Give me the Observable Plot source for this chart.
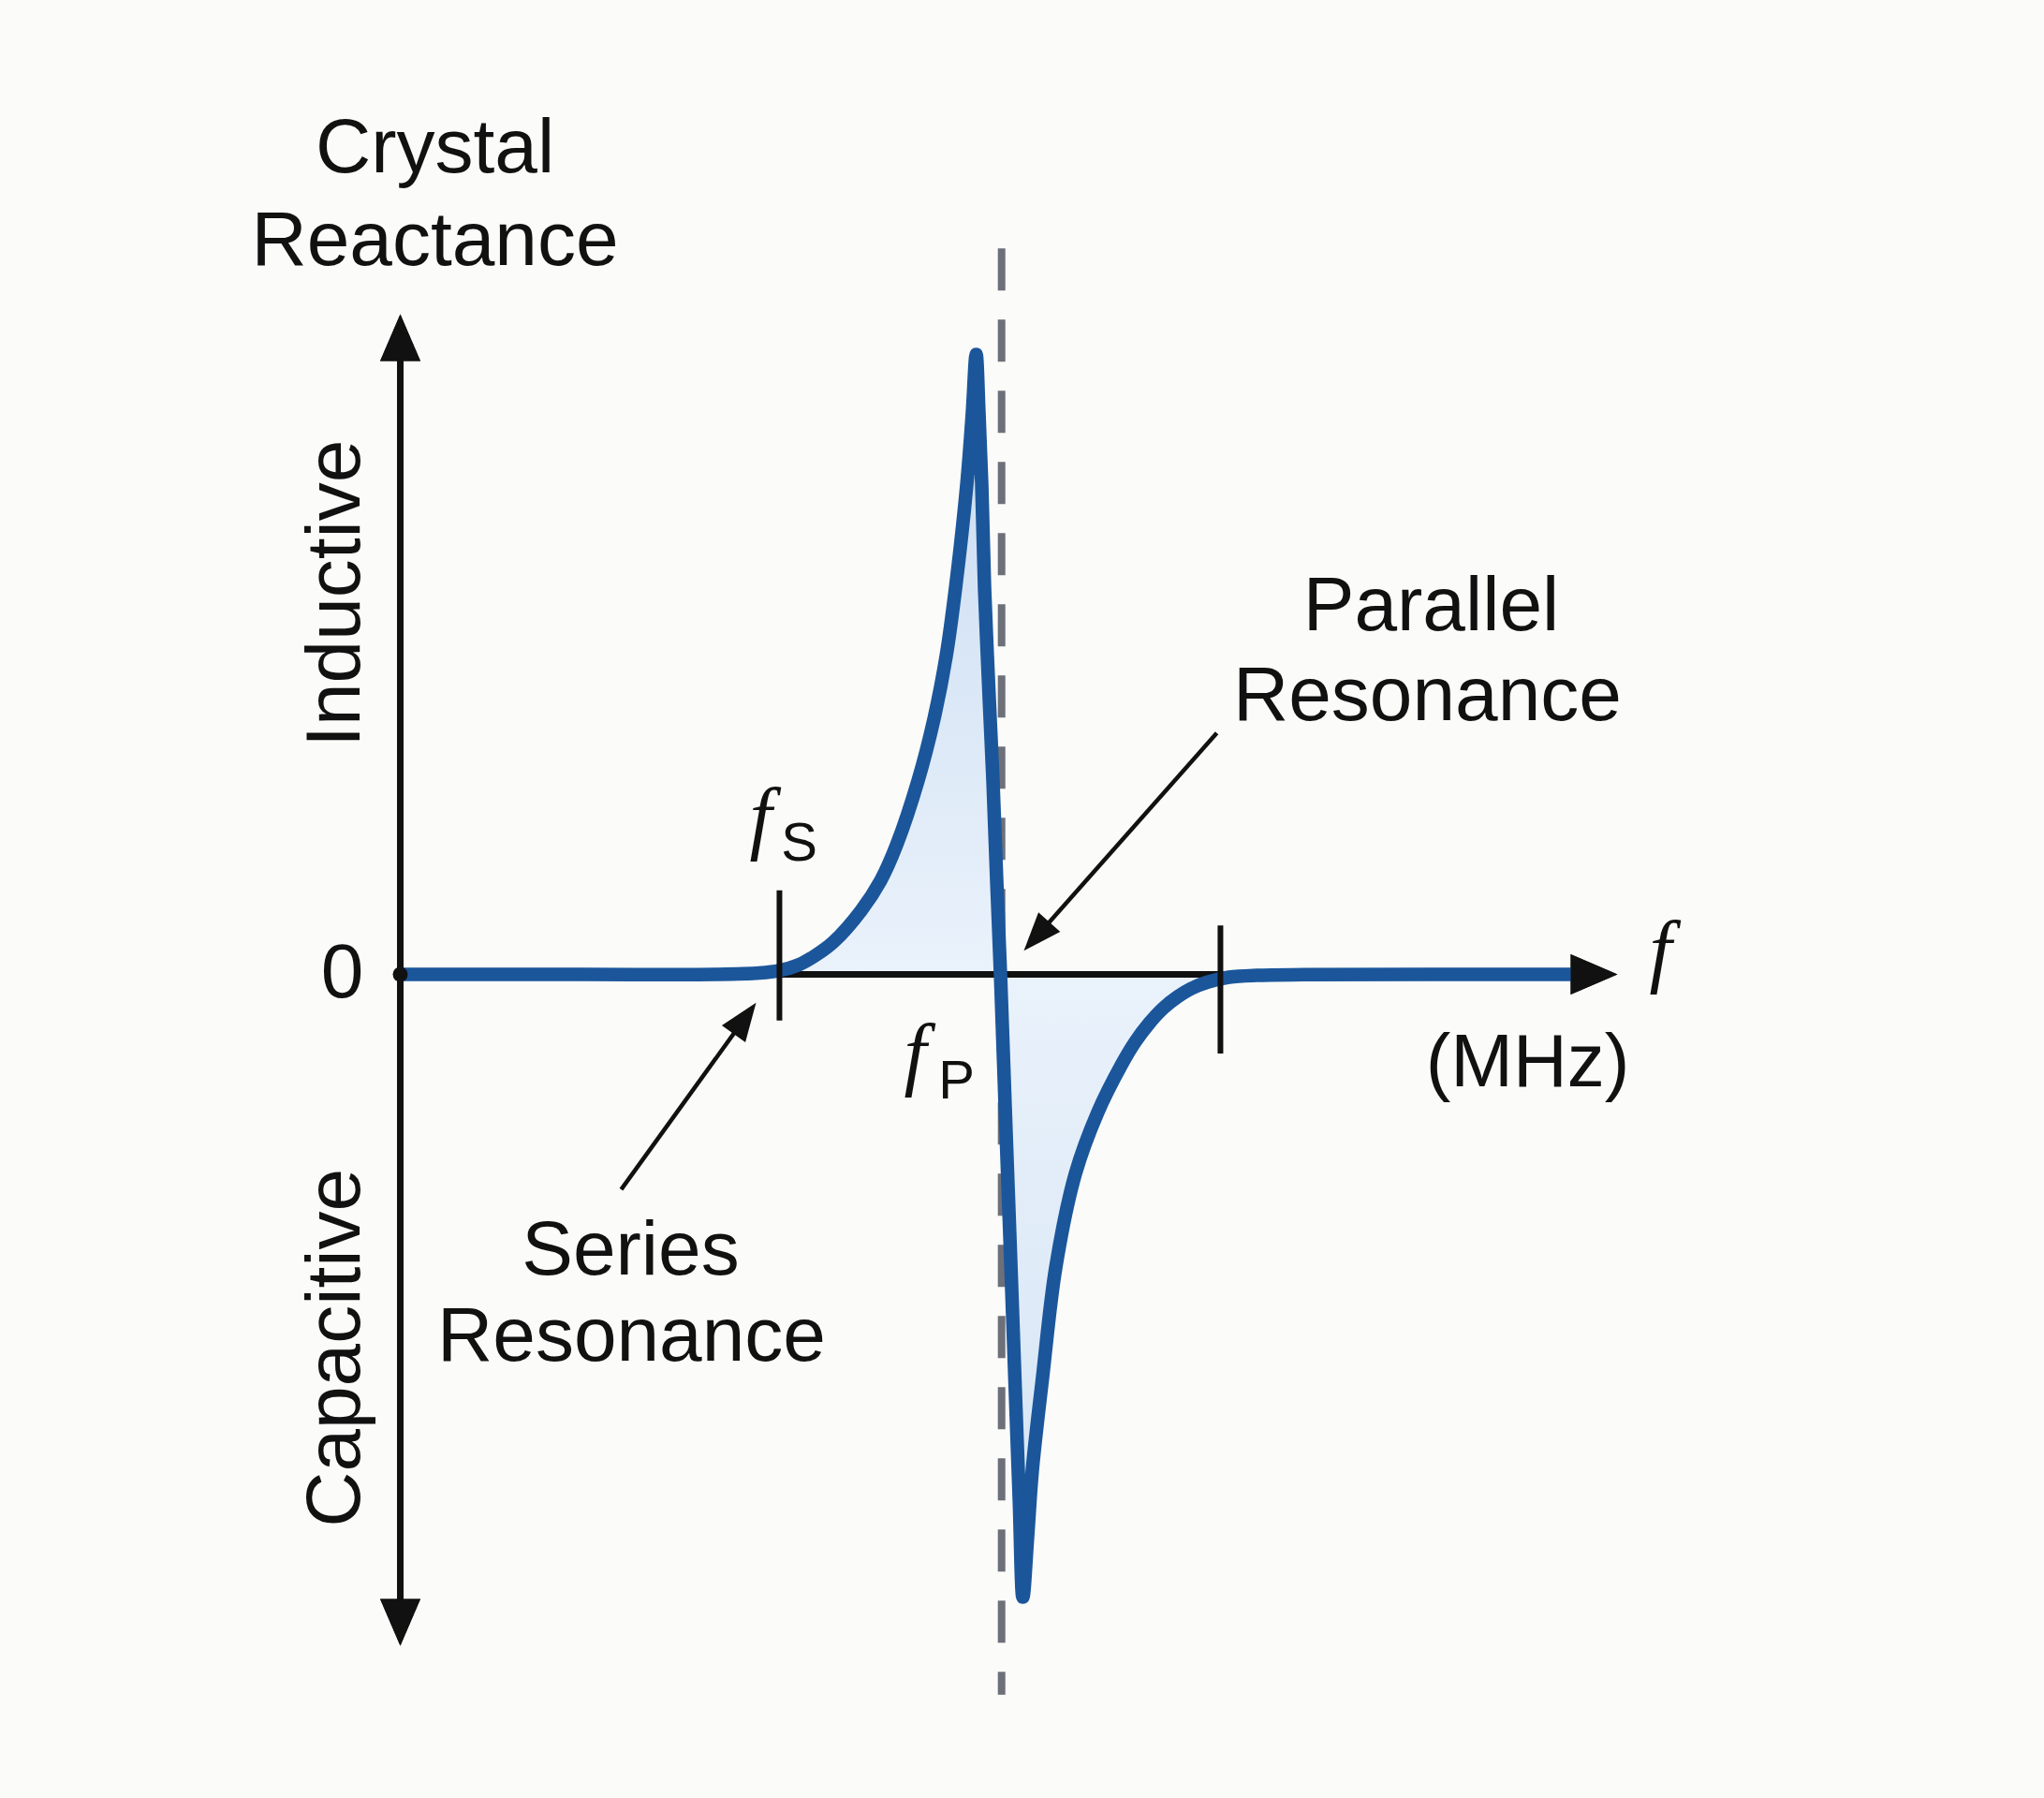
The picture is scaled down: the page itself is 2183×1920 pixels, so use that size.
<!DOCTYPE html>
<html>
<head>
<meta charset="utf-8">
<script src="https://cdn.jsdelivr.net/npm/d3@7"></script>
<script src="https://cdn.jsdelivr.net/npm/@observablehq/plot@0.6"></script>
<style>
  html, body { margin: 0; padding: 0; background: #fbfbf9; }
  #chart svg { display: block; }
</style>
</head>
<body>
<div id="chart"></div>
<script>
// Crystal reactance versus frequency (normalised frequency 0–10, normalised reactance ±10)
const freq = [0, 1.5, 2.6, 2.95,
  3.115, 3.269, 3.408, 3.562, 3.785, 3.946, 4.077, 4.254, 4.385, 4.485,
  4.562, 4.654, 4.700, 4.731,
  4.754, 4.777, 4.800, 4.823, 4.846, 4.869, 4.900, 4.931,
  4.969, 5.008, 5.046, 5.085, 5.115,
  5.154, 5.192, 5.277, 5.385, 5.546, 5.731, 5.923, 6.038, 6.154, 6.269,
  6.385, 6.500, 6.638, 6.808, 7.038, 7.423, 9.638];
const reactance = [0, 0, 0, 0.02,
  0.056, 0.139, 0.278, 0.486, 0.944, 1.389, 1.917, 2.875, 3.792, 4.722,
  5.736, 7.264, 8.333, 9.194,
  8.333, 7.264, 5.736, 4.722, 3.792, 2.875, 1.389, 0,
  -1.944, -3.889, -5.833, -7.778, -9.236,
  -8.333, -7.361, -5.972, -4.347, -2.958, -2.042, -1.347, -1.000, -0.722, -0.500,
  -0.333, -0.208, -0.111, -0.042, -0.014, -0.004, 0];

// Characteristic frequencies
const fSeries = 3.115;     // series resonance
const fParallel = 4.94;    // parallel resonance (dashed marker)
const fUpper = 6.738;      // end of the shaded band

// Axis extents (arrow tips)
const xAxisTip = 10.0;
const yAxisTop = 9.79;
const yAxisBottom = -9.96;

// Tick marks on the frequency axis
const ticks = [
  {f: fSeries, lo: -0.69, hi: 1.24},
  {f: fUpper, lo: -1.18, hi: 0.72}
];

// Callout arrows (label → point of interest)
const callouts = [
  {f1: 6.708, X1: 3.58, f2: 5.123, X2: 0.35},
  {f1: 1.815, X1: -3.19, f2: 2.923, X2: -0.42}
];

// Text labels
const labels = [
  {text: "Crystal", f: 0.285, X: 12.26},
  {text: "Reactance", f: 0.285, X: 10.89},
  {text: "Parallel", f: 8.469, X: 5.47},
  {text: "Resonance", f: 8.438, X: 4.14},
  {text: "Series", f: 1.892, X: -4.08},
  {text: "Resonance", f: 1.9, X: -5.36},
  {text: "0", f: -0.477, X: 0.03}
];
const sideLabels = [
  {text: "Inductive", f: -0.538, X: 5.65},
  {text: "Capacitive", f: -0.538, X: -5.54}
];
const unitLabel = [{text: "(MHz)", f: 9.262, X: -1.31}];
const italicF = [
  {text: "f", f: 2.962, X: 2.32},   // f_S
  {text: "f", f: 4.231, X: -1.18},  // f_P
  {text: "f", f: 10.354, X: 0.35}   // axis name
];
const subscripts = [
  {text: "S", f: 3.277, X: 1.94},
  {text: "P", f: 4.569, X: -1.58}
];

const curve = freq.map((f, i) => ({f, X: reactance[i]}));
const shaded = curve.filter(d => d.f >= fSeries && d.f <= fUpper);

// Scale layout
const X_DOMAIN = [0, 10], X_RANGE = [427, 1727];
const Y_DOMAIN = [-10, 10], Y_RANGE = [1760, 320];
const sx = d3.scaleLinear(X_DOMAIN, X_RANGE);
const sy = d3.scaleLinear(Y_DOMAIN, Y_RANGE);

const INK = "#111111";
const BLUE = "#1b569b";
const SANS = "Liberation Sans, Arial, sans-serif";
const SERIF = "Liberation Serif, Times New Roman, serif";

// Builds a shaft (shortened to the head) and a filled triangular head for an arrow
function arrow(a, L, w, strokeWidth) {
  const x1 = sx(a.f1), y1 = sy(a.X1), x2 = sx(a.f2), y2 = sy(a.X2);
  const len = Math.hypot(x2 - x1, y2 - y1);
  const ux = (x2 - x1) / len, uy = (y2 - y1) / len;
  const head = {
    draw(ctx) {
      ctx.moveTo(0, 0);
      ctx.lineTo(-L * ux - w * uy, -L * uy + w * ux);
      ctx.lineTo(-L * ux + w * uy, -L * uy - w * ux);
      ctx.closePath();
    }
  };
  const stop = {f1: a.f1, X1: a.X1, f2: sx.invert(x2 - ux * L * 0.6), X2: sy.invert(y2 - uy * L * 0.6)};
  return [
    Plot.link([stop], {x1: "f1", y1: "X1", x2: "f2", y2: "X2", stroke: INK, strokeWidth}),
    Plot.dot([a], {x: "f2", y: "X2", symbol: head, r: 10, fill: INK, stroke: "none"})
  ];
}

const axisArrows = [
  {f1: 0, X1: 0, f2: xAxisTip, X2: 0},
  {f1: 0, X1: 0, f2: 0, X2: yAxisTop},
  {f1: 0, X1: 0, f2: 0, X2: yAxisBottom}
];

const chart = Plot.plot({
  width: 2183,
  height: 1920,
  margin: 0,
  style: {background: "#fbfbf9"},
  x: {domain: X_DOMAIN, range: X_RANGE, axis: null},
  y: {domain: Y_DOMAIN, range: Y_RANGE, axis: null},
  marks: [
    // shaded band between series resonance and the upper tick
    Plot.areaY(shaded, {x: "f", y: "X", curve: "catmull-rom", fill: "url(#reactanceFill)"}),
    // parallel-resonance marker
    Plot.ruleX([fParallel], {y1: 10.76, y2: -10.69, stroke: "#6d7079", strokeWidth: 8, strokeDasharray: "45,31"}),
    // axes
    ...axisArrows.flatMap(a => arrow(a, 50, 21.5, 7)),
    // reactance curve
    Plot.line(curve, {x: "f", y: "X", curve: "catmull-rom", stroke: BLUE, strokeWidth: 14.5,
      strokeLinecap: "round", strokeLinejoin: "round"}),
    // ticks and origin
    Plot.ruleX(ticks, {x: "f", y1: "lo", y2: "hi", stroke: INK, strokeWidth: 6}),
    Plot.dot([{f: 0, X: 0}], {x: "f", y: "X", r: 8, fill: INK}),
    // axis heads drawn again above the curve
    ...axisArrows.map(a => arrow(a, 50, 21.5, 7)[1]),
    // callouts
    ...callouts.flatMap(a => arrow(a, 41, 15.5, 4.5)),
    // labels
    Plot.text(labels, {x: "f", y: "X", text: "text", fontSize: 82, fontFamily: SANS, fill: INK,
      textAnchor: "middle", lineAnchor: "middle"}),
    Plot.text(sideLabels, {x: "f", y: "X", text: "text", fontSize: 82, fontFamily: SANS, fill: INK,
      textAnchor: "middle", lineAnchor: "middle", rotate: -90}),
    Plot.text(unitLabel, {x: "f", y: "X", text: "text", fontSize: 80, fontFamily: SANS, fill: INK,
      textAnchor: "middle", lineAnchor: "middle"}),
    Plot.text(italicF, {x: "f", y: "X", text: "text", fontSize: 86, fontFamily: SERIF, fontStyle: "italic",
      fill: INK, textAnchor: "middle", lineAnchor: "middle"}),
    Plot.text(subscripts, {x: "f", y: "X", text: "text", fontSize: 58, fontFamily: SANS, fill: INK,
      textAnchor: "middle", lineAnchor: "middle"})
  ]
});

// Vertical gradient for the shaded band: stronger towards the extremes, paler at the axis
const ys = chart.scale("y");
const yPeak = ys.apply(d3.max(reactance));
const yTrough = ys.apply(d3.min(reactance));
const yZero = ys.apply(0);
const grad = d3.select(chart).insert("defs", ":first-child")
  .append("linearGradient")
  .attr("id", "reactanceFill")
  .attr("gradientUnits", "userSpaceOnUse")
  .attr("x1", 0).attr("x2", 0)
  .attr("y1", yPeak).attr("y2", yTrough);
const zeroOffset = (yZero - yPeak) / (yTrough - yPeak);
[[0, "#c8dbf1"], [zeroOffset, "#eaf2fb"], [1, "#d3e3f4"]].forEach(([o, c]) =>
  grad.append("stop").attr("offset", o).attr("stop-color", c));

document.getElementById("chart").append(chart);
</script>
</body>
</html>
